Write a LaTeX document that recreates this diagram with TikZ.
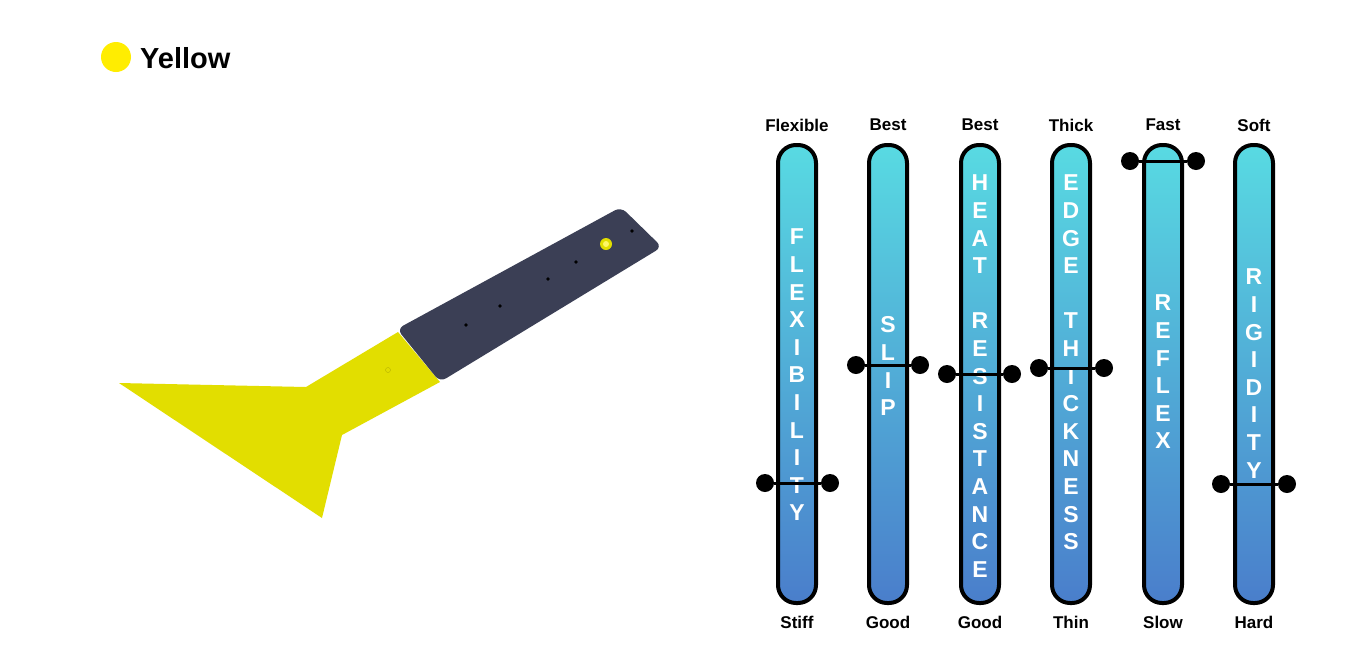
\documentclass[tikz,border=0pt]{standalone}
\usepackage{fontspec}
\setmainfont{Liberation Sans}
\begin{document}
\begin{tikzpicture}[x=1pt,y=-1pt,
  barbox/.style={draw=black,line width=4pt,rounded corners=18pt,top color=cyanTop,bottom color=blueBot},
  toplab/.style={font=\bfseries\fontsize{17}{17}\selectfont},
  vlet/.style={text=white,font=\bfseries\fontsize{23}{23}\selectfont,inner sep=0pt},
  dot/.style={circle,fill=black,minimum size=18pt,inner sep=0pt},
  slide/.style={line width=3pt}]
\definecolor{cyanTop}{HTML}{58DAE2}
\definecolor{blueBot}{HTML}{4A7ECB}
\definecolor{scrY}{HTML}{E2DE00}
\definecolor{hdl}{HTML}{3B3F55}
\useasboundingbox (0,0) rectangle (1345,657);
\fill[white] (0,0) rectangle (1345,657);
% legend
\node[circle,fill=yellow!95!orange,minimum size=30pt,inner sep=0pt] (lc) at (116,57) {};
\node[anchor=west,font=\bfseries\fontsize{29}{29}\selectfont,inner sep=0pt] (lt) at (140,58) {Yellow};
% scraper
\fill[scrY] (119,383) -- (306,387) -- (398,332) -- (440,382) -- (342,435) -- (322,518) -- cycle;
\fill[hdl,rounded corners=7pt] (397,329) -- (621,207) -- (662,247) -- (440,382) -- cycle;
\foreach \p in {(466,325),(500,306),(548,279),(576,262),(632,231)} \fill[black] \p circle (1.8);
\fill[scrY] (606,244) circle (6);
\fill[yellow!60!white] (606,244) circle (3);
\draw[scrY!80!black] (388,370) circle (2.5);
% bars
\foreach \n/\x/\t/\b/\w/\ys/\sy/\dl/\dr in {
  a/797/Flexible/Stiff/{F,L,E,X,I,B,I,L,I,T,Y}/237/483/765/830,
  b/888/Best/Good/{S,L,I,P}/325/365/856/920,
  c/980/Best/Good/{H,E,A,T, ,R,E,S,I,S,T,A,N,C,E}/183/374/947/1012,
  d/1071/Thick/Thin/{E,D,G,E, ,T,H,I,C,K,N,E,S,S}/183/368/1039/1104,
  e/1163/Fast/Slow/{R,E,F,L,E,X}/303/161/1130/1196,
  f/1254/Soft/Hard/{R,I,G,I,D,I,T,Y}/277/484/1221/1287}{
  \draw[barbox] (\x-19,145) rectangle (\x+19,603);
  \node[toplab] (t\n) at (\x,125) {\t};
  \node[toplab] (b\n) at (\x,622) {\b};
  \foreach \L [count=\i from 0] in \w {\node[vlet] at (\x,\ys+27.6*\i) {\L};}
  \node[dot] (l\n) at (\dl,\sy) {};
  \node[dot] (r\n) at (\dr,\sy) {};
  \draw[slide] (l\n) -- (r\n);
}
\end{tikzpicture}
\end{document}
